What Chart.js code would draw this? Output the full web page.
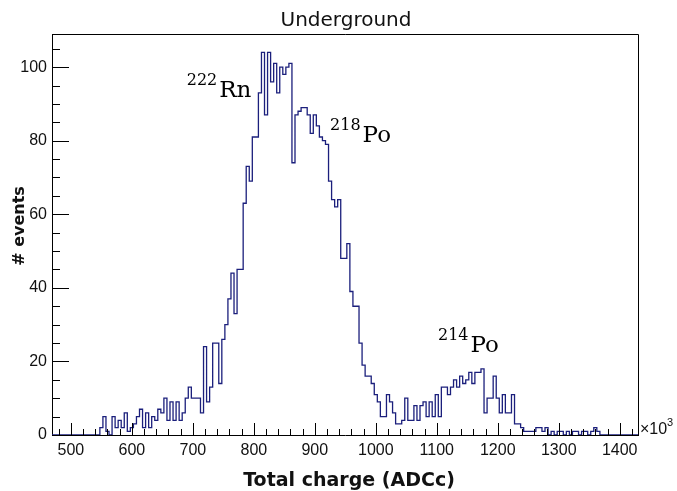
<!DOCTYPE html>
<html><head><meta charset="utf-8">
<script src="https://cdn.jsdelivr.net/npm/chart.js@4/dist/chart.umd.min.js"></script>
<style>html,body{margin:0;padding:0;background:#fff}#wrap{width:677px;height:491px}</style>
</head><body><div id="wrap"><canvas id="c" width="677" height="491"></canvas></div>
<script>
// ---------------- data ----------------
const chartTitle = 'Underground';
const xAxisTitle = 'Total charge (ADCc)';
const yAxisTitle = '# events';
const xMultiplier = ['\u00d710', '3'];
const xRange = [469, 1430];
const yRange = [0, 109];
const xTickLabels = [500, 600, 700, 800, 900, 1000, 1100, 1200, 1300, 1400];
const yTickLabels = [0, 20, 40, 60, 80, 100];
const binWidth = 5;
const firstBinEdge = 547.5;
const counts = [
  2, 5, 1, 0, 5, 2, 4, 2, 6, 1,
  2, 3, 5, 7, 2, 6, 2, 5, 4, 7,
  6, 10, 4, 9, 4, 9, 4, 6, 10, 13,
  10, 10, 10, 6, 24, 9, 13, 25, 25, 14,
  26, 30, 37, 44, 33, 45, 45, 63, 73, 69,
  81, 81, 93, 104, 87, 104, 96, 101, 93, 100,
  98, 100, 101, 74, 87, 88, 89, 89, 87, 82,
  87, 84, 81, 80, 79, 69, 64, 62, 64, 48,
  48, 52, 39, 35, 35, 25, 19, 16, 16, 14,
  11, 9, 5, 5, 11, 9, 6, 3, 3, 4,
  10, 4, 4, 8, 4, 8, 9, 5, 9, 5,
  11, 5, 13, 13, 11, 13, 15, 13, 16, 14,
  15, 17, 14, 17, 17, 18, 6, 10, 10, 16,
  10, 6, 11, 6, 6, 11, 3, 3, 2, 1,
  1, 1, 1, 2, 2, 1, 2, 0, 1, 0,
  1, 1, 0, 1, 0, 1, 1, 0, 1, 1,
  0, 1, 2, 1
];
const peakMass = ['222', '218', '214'];
const peakElement = ['Rn', 'Po', 'Po'];
// label anchors in data coordinates (x, y)
const peakLabelX = [690, 925, 1102];
const peakLabelY = [92, 79.6, 22.6];

// ---------------- build histogram outline ----------------
const outline = [{x: xRange[0], y: 0}];
counts.forEach((c, i) => outline.push({x: firstBinEdge + i * binWidth, y: c}));
outline.push({x: firstBinEdge + counts.length * binWidth, y: 0});
outline.push({x: xRange[1], y: 0});

const LINE = '#1b1f7c';

const decor = {
  id: 'decor',
  afterDraw(chart) {
    const ctx = chart.ctx;
    const xs = chart.scales.x, ys = chart.scales.y;
    const a = chart.chartArea;
    ctx.save();
    // frame
    ctx.strokeStyle = '#000';
    ctx.lineWidth = 1;
    ctx.beginPath();
    ctx.moveTo(a.left, a.top + 0.5); ctx.lineTo(a.right + 0.5, a.top + 0.5);
    ctx.lineTo(a.right + 0.5, a.bottom);
    ctx.stroke();
    // x ticks (inward)
    ctx.beginPath();
    for (let v = 480; v <= xRange[1]; v += 20) {
      const px = Math.round(xs.getPixelForValue(v)) + 0.5;
      const len = (v % 100 === 0) ? 12 : 6;
      ctx.moveTo(px, a.bottom); ctx.lineTo(px, a.bottom - len);
    }
    // y ticks (inward)
    for (let v = 0; v <= yRange[1]; v += 5) {
      const py = Math.round(ys.getPixelForValue(v)) + 0.5;
      const len = (v % 20 === 0) ? 17 : 8;
      ctx.moveTo(a.left, py); ctx.lineTo(a.left + len, py);
    }
    ctx.stroke();

    // title
    ctx.fillStyle = '#111';
    ctx.font = '20px "DejaVu Sans"';
    ctx.textAlign = 'center';
    ctx.textBaseline = 'alphabetic';
    ctx.fillText(chartTitle, 346, 26);
    // x title
    ctx.font = 'bold 19px "DejaVu Sans"';
    ctx.fillText(xAxisTitle, 349, 486);
    // y title
    ctx.save();
    ctx.translate(24, 226);
    ctx.rotate(-Math.PI / 2);
    ctx.font = 'bold 16px "DejaVu Sans"';
    ctx.fillText(yAxisTitle, 0, 0);
    ctx.restore();
    // x10^3
    ctx.textAlign = 'left';
    ctx.font = '16px "Liberation Sans"';
    ctx.fillText(xMultiplier[0], 640, 434);
    ctx.font = '11px "Liberation Sans"';
    ctx.fillText(xMultiplier[1], 667, 426);

    // peak labels
    ctx.fillStyle = '#000';
    for (let i = 0; i < peakMass.length; i++) {
      const px = xs.getPixelForValue(peakLabelX[i]);
      const py = ys.getPixelForValue(peakLabelY[i]);
      ctx.font = '16px "DejaVu Serif"';
      ctx.fillText(peakMass[i], px, py - 12);
      const w = ctx.measureText(peakMass[i]).width;
      ctx.font = '23px "DejaVu Serif"';
      ctx.fillText(peakElement[i], px + w + 2, py);
    }
    ctx.restore();
  }
};

new Chart(document.getElementById('c'), {
  type: 'line',
  data: {
    datasets: [{
      data: outline,
      borderColor: LINE,
      borderWidth: 1.3,
      pointRadius: 0,
      stepped: 'before',
      fill: false,
      tension: 0
    }]
  },
  options: {
    responsive: false,
    animation: false,
    devicePixelRatio: 1,
    layout: {padding: {left: 0, right: 39, top: 34, bottom: 0}},
    plugins: {legend: {display: false}, tooltip: {enabled: false}, title: {display: false}},
    scales: {
      x: {
        type: 'linear',
        min: xRange[0], max: xRange[1],
        grid: {display: false, drawTicks: false},
        border: {display: true, color: '#000', width: 1},
        ticks: {stepSize: 100, padding: 6, color: '#111', font: {family: 'Liberation Sans', size: 16}, maxRotation: 0, autoSkip: false, callback: v => String(v)},
        afterBuildTicks: s => { s.ticks = xTickLabels.map(v => ({value: v})); },
        afterFit: s => { s.height = 56; }
      },
      y: {
        type: 'linear',
        min: yRange[0], max: yRange[1],
        grid: {display: false, drawTicks: false},
        border: {display: true, color: '#000', width: 1},
        ticks: {stepSize: 20, padding: 5, color: '#111', font: {family: 'Liberation Sans', size: 16}, callback: v => String(v)},
        afterBuildTicks: s => { s.ticks = yTickLabels.map(v => ({value: v})); },
        afterFit: s => { s.width = 52; }
      }
    }
  },
  plugins: [decor]
});
</script>
</body></html>
